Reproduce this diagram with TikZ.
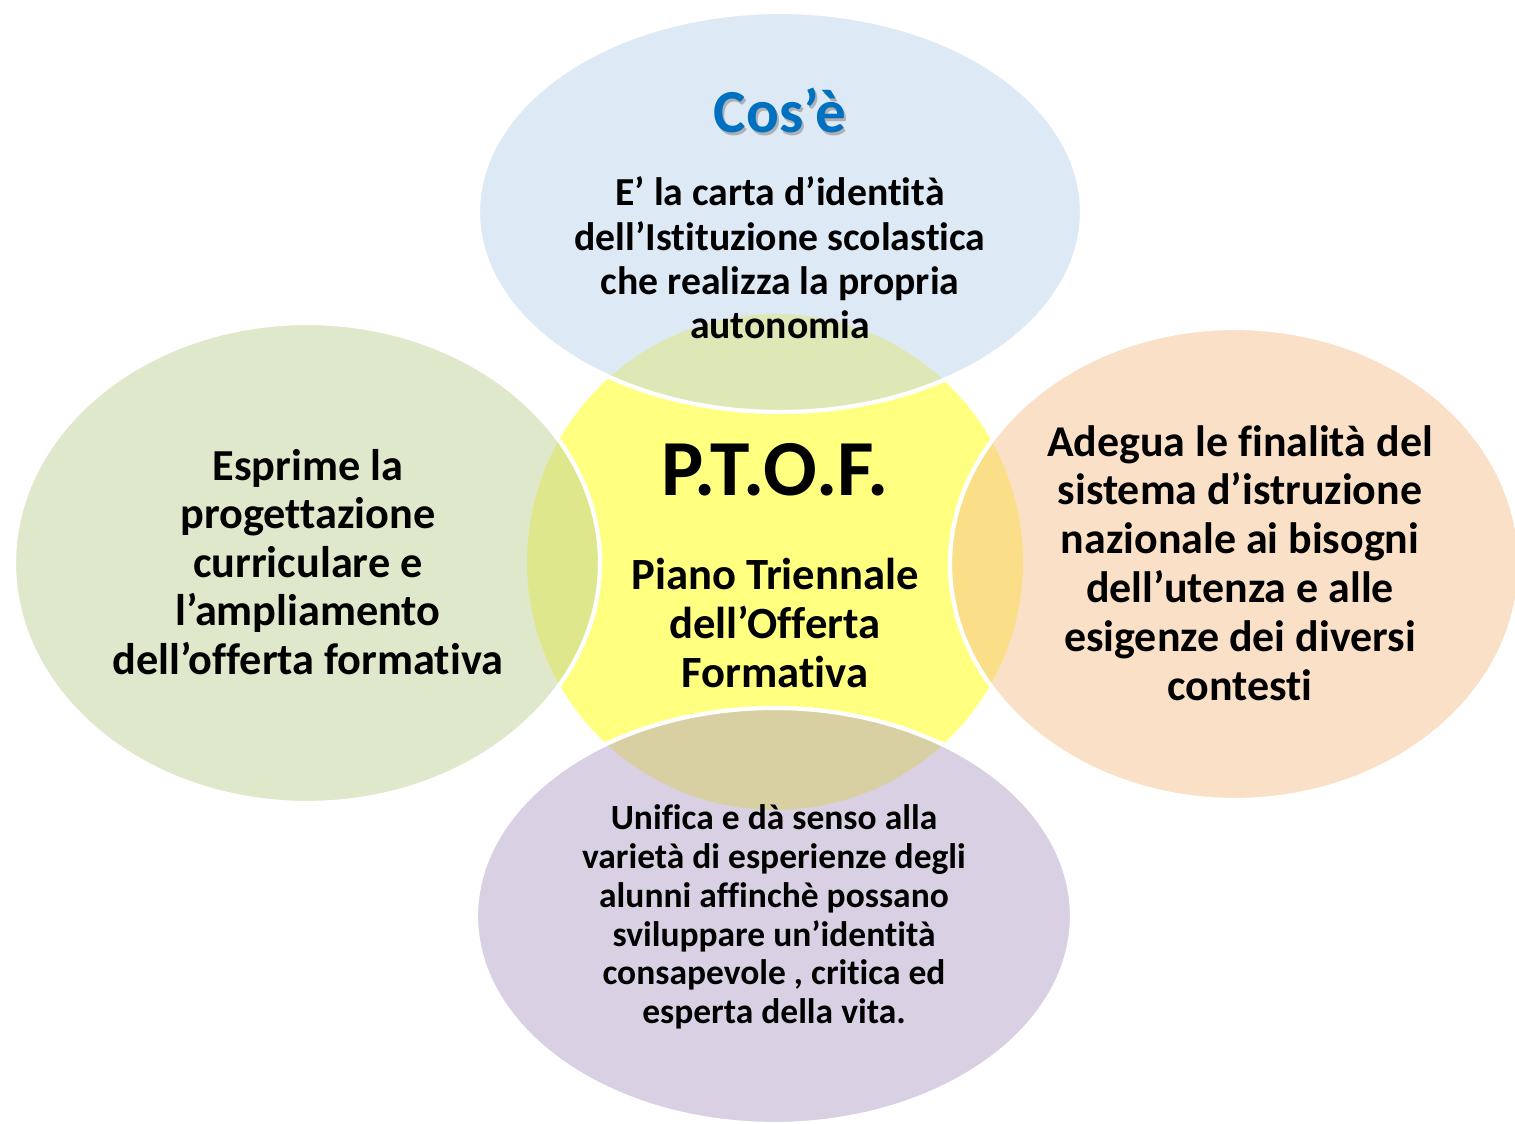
\documentclass[tikz,border=0pt]{standalone}
\usepackage{fontspec}
\setmainfont{Carlito}[Ligatures=NoCommon]
\usetikzlibrary{shapes.geometric}

\definecolor{coreyellow}{RGB}{255,255,128}
\definecolor{topblue}{RGB}{189,211,237}
\definecolor{leftgreen}{RGB}{193,209,153}
\definecolor{rightpeach}{RGB}{247,193,145}
\definecolor{bottomlilac}{RGB}{179,163,199}
\definecolor{titleblue}{RGB}{0,112,192}

\begin{document}
\begin{tikzpicture}[
    bubble/.style={ellipse, draw=white, line width=1.2pt, fill opacity=0.5, inner sep=0pt},
    words/.style={align=center, text=black}
  ]
  \useasboundingbox (0,0) rectangle (15.15,-11.24);

  % centre
  \node[circle, fill=coreyellow, minimum size=4.96cm, inner sep=0pt] (core) at (7.75,-5.62) {};

  % the four bubbles round it
  \node[bubble, fill=topblue, minimum width=6.04cm, minimum height=4.00cm] (cose) at (7.80,-2.12) {};
  \node[bubble, fill=leftgreen, minimum width=5.86cm, minimum height=4.80cm] (esprime) at (3.07,-5.63) {};
  \node[bubble, fill=rightpeach, minimum width=5.70cm, minimum height=4.72cm] (adegua) at (12.35,-5.64) {};
  \node[bubble, fill=bottomlilac, minimum width=5.96cm, minimum height=4.16cm] (unifica) at (7.74,-9.16) {};

  % texts
  \node[words, text=black!45, opacity=0.6, font=\fontsize{17.4}{21}\selectfont\bfseries] (coseshadow) at (7.82,-1.13) {Cos’è};
  \node[words, text=titleblue, font=\fontsize{17.4}{21}\selectfont\bfseries] (cosetitle) at (7.80,-1.10) {Cos’è};
  \node[words, font=\fontsize{11.3}{12.6}\selectfont\bfseries] (cosetext) at (7.80,-2.58)
    {E’ la carta d’identità\\dell’Istituzione scolastica\\che realizza la propria\\autonomia};
  \node[words, font=\fontsize{22.6}{27}\selectfont\bfseries] (ptof) at (7.75,-4.70) {P.T.O.F.};
  \node[words, font=\fontsize{12.7}{13.9}\selectfont\bfseries] (piano) at (7.75,-6.23)
    {Piano Triennale\\dell’Offerta\\Formativa};
  \node[words, font=\fontsize{12.6}{13.8}\selectfont\bfseries] (esprimetext) at (3.08,-5.62)
    {Esprime la\\progettazione\\curriculare e\\l’ampliamento\\dell’offerta formativa};
  \node[words, font=\fontsize{12.5}{13.9}\selectfont\bfseries] (adeguatext) at (12.40,-5.63)
    {Adegua le finalità del\\sistema d’istruzione\\nazionale ai bisogni\\dell’utenza e alle\\esigenze dei diversi\\contesti};
  \node[words, font=\fontsize{10.1}{11.05}\selectfont\bfseries] (unificatext) at (7.74,-9.17)
    {Unifica e dà senso alla\\varietà di esperienze degli\\alunni affinchè possano\\sviluppare un’identità\\consapevole , critica ed\\esperta della vita.};
\end{tikzpicture}
\end{document}
